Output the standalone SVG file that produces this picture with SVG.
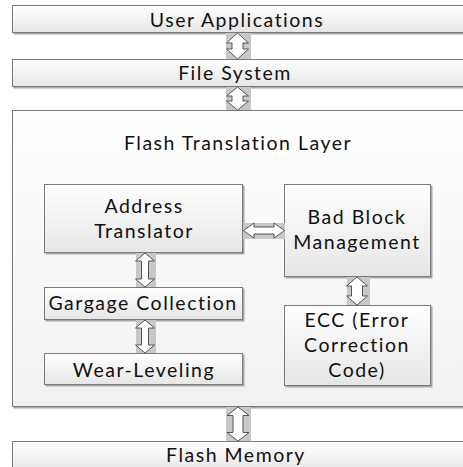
<svg xmlns="http://www.w3.org/2000/svg" width="463" height="467" viewBox="0 0 463 467">
  <defs>
    <linearGradient id="boxFill" x1="0" y1="0" x2="0" y2="1">
      <stop offset="0" stop-color="#ffffff"/>
      <stop offset="1" stop-color="#e6e6e6"/>
    </linearGradient>
    <linearGradient id="layerFill" x1="0" y1="0" x2="0" y2="1">
      <stop offset="0" stop-color="#ffffff"/>
      <stop offset="1" stop-color="#f1f1f1"/>
    </linearGradient>
    <style>
      .shadow { fill: #a8a8a8; }
      .box { fill: url(#boxFill); stroke: #7a7a7a; stroke-width: 1; }
      .layer { fill: url(#layerFill); stroke: #7a7a7a; stroke-width: 1; }
      .lbl { font-family: Lato, "Open Sans", "Liberation Sans", sans-serif; font-size: 19.5px; fill: #111; text-anchor: middle; letter-spacing: 1.5px; }
      .pad { fill: #c8c8c8; }
      .arrow { fill: #ffffff; stroke: #555555; stroke-width: 1; stroke-linejoin: miter; }
    </style>
  </defs>

  <!-- layers and inner blocks -->
  <g id="user-applications">
    <rect class="shadow" x="13.5" y="6.5" width="460" height="28"/>
    <rect class="box" x="12.5" y="5.5" width="460" height="27"/>
    <text class="lbl" x="237" y="27">User Applications</text>
  </g>

  <g id="file-system">
    <rect class="shadow" x="13.5" y="60.5" width="460" height="28"/>
    <rect class="box" x="12.5" y="59.5" width="460" height="27"/>
    <text class="lbl" x="235" y="80">File System</text>
  </g>

  <g id="flash-translation-layer">
    <rect class="shadow" x="13.5" y="111.5" width="460" height="297"/>
    <rect class="layer" x="12.5" y="110.5" width="460" height="296"/>
    <text class="lbl" x="238" y="150">Flash Translation Layer</text>
  </g>

  <g id="address-translator">
    <rect class="shadow" x="45.5" y="185.5" width="199" height="69"/>
    <rect class="box" x="44.5" y="184.5" width="198" height="68"/>
    <text class="lbl" x="144" y="213">Address</text>
    <text class="lbl" x="144" y="238">Translator</text>
  </g>

  <g id="bad-block-management">
    <rect class="shadow" x="285.5" y="185.5" width="147" height="93"/>
    <rect class="box" x="284.5" y="184.5" width="146" height="92"/>
    <text class="lbl" x="357" y="224">Bad Block</text>
    <text class="lbl" x="357" y="249">Management</text>
  </g>

  <g id="garbage-collection">
    <rect class="shadow" x="45.5" y="288.5" width="199" height="33"/>
    <rect class="box" x="44.5" y="287.5" width="198" height="32"/>
    <text class="lbl" x="143" y="310">Gargage Collection</text>
  </g>

  <g id="wear-leveling">
    <rect class="shadow" x="45.5" y="354.5" width="199" height="32"/>
    <rect class="box" x="44.5" y="353.5" width="198" height="31"/>
    <text class="lbl" x="144" y="377">Wear-Leveling</text>
  </g>

  <g id="ecc">
    <rect class="shadow" x="285.5" y="306.5" width="147" height="81"/>
    <rect class="box" x="284.5" y="305.5" width="146" height="80"/>
    <text class="lbl" x="357" y="327">ECC (Error</text>
    <text class="lbl" x="357" y="352">Correction</text>
    <text class="lbl" x="357" y="377">Code)</text>
  </g>

  <g id="flash-memory">
    <rect class="shadow" x="13.5" y="442.5" width="460" height="30"/>
    <rect class="box" x="12.5" y="441.5" width="460" height="30"/>
    <text class="lbl" x="236" y="462">Flash Memory</text>
  </g>

  <!-- block double arrows between blocks -->
  <g id="connectors">
    <!-- User Applications <-> File System -->
    <rect class="pad" x="226" y="33" width="25" height="26"/>
    <path class="arrow" d="M237.5,33 L248.5,43 L243,43 L243,49 L248.5,49 L237.5,59 L226.5,49 L232,49 L232,43 L226.5,43 Z"/>

    <!-- File System <-> Flash Translation Layer -->
    <rect class="pad" x="226" y="87" width="25" height="23"/>
    <path class="arrow" d="M237.5,87 L248.5,96 L243,96 L243,101 L248.5,101 L237.5,110 L226.5,101 L232,101 L232,96 L226.5,96 Z"/>

    <!-- Flash Translation Layer <-> Flash Memory -->
    <rect class="pad" x="226" y="407" width="25" height="34"/>
    <path class="arrow" d="M238,407 L249,415.5 L243,415.5 L243,432.5 L249,432.5 L238,441 L227,432.5 L233,432.5 L233,415.5 L227,415.5 Z"/>

    <!-- Address Translator <-> Bad Block Management -->
    <rect class="pad" x="243" y="223" width="42" height="16"/>
    <path class="arrow" d="M243.5,230.5 L254,223 L254,227 L274,227 L274,223 L284.5,230.5 L274,238 L274,234 L254,234 L254,238 Z"/>

    <!-- Address Translator <-> Garbage Collection -->
    <rect class="pad" x="136" y="253" width="20" height="34"/>
    <path class="arrow" d="M145,253 L154.5,261 L148.5,261 L148.5,279 L154.5,279 L145,287 L135.5,279 L141.5,279 L141.5,261 L135.5,261 Z"/>

    <!-- Garbage Collection <-> Wear-Leveling -->
    <rect class="pad" x="136" y="320" width="20" height="33"/>
    <path class="arrow" d="M145,320 L154.5,328 L148.5,328 L148.5,345 L154.5,345 L145,353 L135.5,345 L141.5,345 L141.5,328 L135.5,328 Z"/>

    <!-- Bad Block Management <-> ECC -->
    <rect class="pad" x="347" y="277" width="23" height="28"/>
    <path class="arrow" d="M357,277 L367.5,286 L362.5,286 L362.5,296 L367.5,296 L357,305 L346.5,296 L351.5,296 L351.5,286 L346.5,286 Z"/>
  </g>
</svg>
